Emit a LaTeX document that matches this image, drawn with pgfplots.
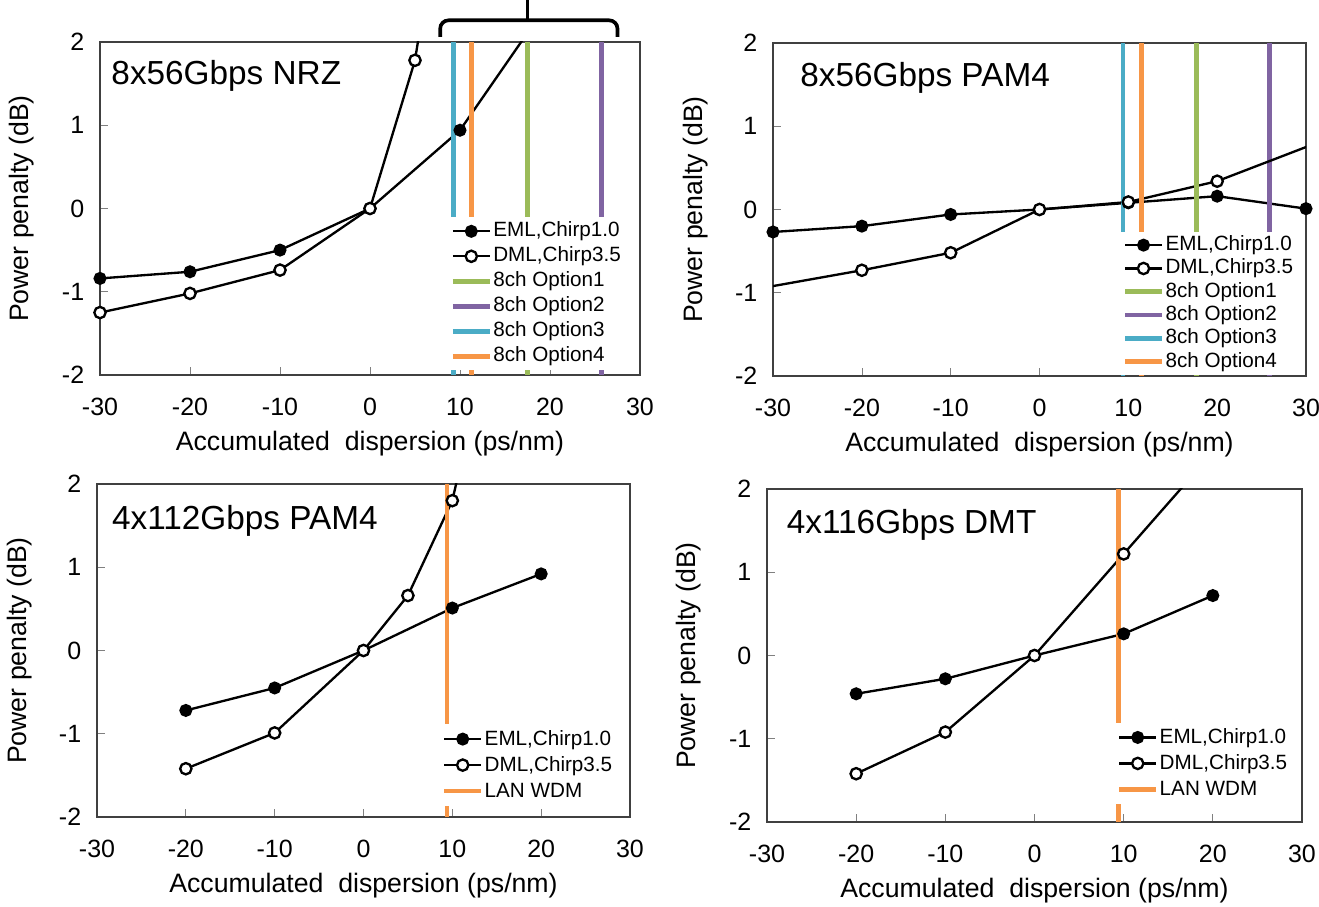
\documentclass[border=0pt]{standalone}
\usepackage{fontspec}
\setmainfont{Liberation Sans}
\usepackage{pgfplots}
\pgfplotsset{compat=1.18}

\definecolor{optgreen}{HTML}{9BBB59}
\definecolor{optpurple}{HTML}{8064A2}
\definecolor{optcyan}{HTML}{4BACC6}
\definecolor{optorange}{HTML}{F79646}

\tikzset{ttl/.style={anchor=west, inner sep=0pt, font=\fontsize{10}{12}\selectfont}}

\pgfplotsset{
  penalty/.style={
    scale only axis, width=160pt, height=99.9pt,
    xmin=-30, xmax=30, ymin=-2, ymax=2,
    xtick={-30,-20,...,30}, ytick={-2,-1,0,1,2},
    tick pos=left, tick align=inside, major tick length=2.4pt,
    tick label style={font=\fontsize{7.5}{9}\selectfont},
    xticklabel style={yshift=-3.5pt},
    yticklabel style={xshift=-1.2pt},
    /pgf/number format/assume math mode=true,
    axis line style={black!75, line width=0.5pt},
    xlabel={Accumulated\ \ dispersion (ps/nm)},
    ylabel={Power penalty (dB)},
    label style={font=\fontsize{8}{10}\selectfont},
    xlabel style={at={(axis description cs:0.5,-0.205)}, anchor=center},
    ylabel style={at={(axis description cs:-0.146,0.5)}, anchor=center},
    legend cell align=left,
    legend style={draw=none, fill=white, font=\fontsize{6.2}{7}\selectfont,
      inner xsep=0.5pt, inner ysep=0.5pt, row sep=0pt,
      nodes={inner xsep=0.4pt, inner ysep=0.5pt, text height=4.6pt, text depth=1.4pt}},
    legend image code/.code={\draw[mark repeat=2, mark phase=2]
      plot coordinates {(0pt,0pt) (5.5pt,0pt) (11pt,0pt)};},
  },
  eml/.style={black, line width=0.7pt, mark=*, mark size=1.6pt, mark options={solid, fill=black}},
  dml/.style={black, line width=0.7pt, mark=*, mark size=1.7pt, mark options={solid, fill=white}},
  vline/.style={line width=1.4pt, no marks},
}

\begin{document}
\begin{tikzpicture}
\useasboundingbox (0,0) rectangle (395.7pt,-272.1pt);

% top left: 8x56G NRZ
\begin{axis}[penalty, at={(30pt,-112.5pt)}, anchor=south west, width=162pt,
  legend style={at={(axis description cs:0.645,0.476)}, anchor=north west,
    nodes={text height=4.9pt, text depth=1.6pt}}]
\addplot[eml] coordinates {(-30,-0.84) (-20,-0.76) (-10,-0.50) (0,0) (10,0.94) (20,2.5)};
\addlegendentry{EML,Chirp1.0}
\addplot[dml] coordinates {(-30,-1.25) (-20,-1.02) (-10,-0.74) (0,0) (5,1.78) (10,5.2)};
\addlegendentry{DML,Chirp3.5}
\addplot[vline, optgreen] coordinates {(17.5,-2) (17.5,2)};
\addlegendentry{8ch Option1}
\addplot[vline, optpurple] coordinates {(25.7,-2) (25.7,2)};
\addlegendentry{8ch Option2}
\addplot[vline, optcyan] coordinates {(9.3,-2) (9.3,2)};
\addlegendentry{8ch Option3}
\addplot[vline, optorange] coordinates {(11.3,-2) (11.3,2)};
\addlegendentry{8ch Option4}
\node[ttl] at (axis description cs:0.02,0.897) {8x56Gbps NRZ};
\coordinate (bl) at (axis cs:7.8,2);
\coordinate (br) at (axis cs:27.5,2);
\coordinate (bm) at (axis cs:17.5,2);
\end{axis}
\draw[line width=1.1pt, rounded corners=2.5pt] ([yshift=1.5pt]bl) -- ([yshift=6.5pt]bl) -- ([yshift=6.5pt]br) -- ([yshift=1.5pt]br);
\draw[line width=1.1pt] ([yshift=6.5pt]bm) -- ([yshift=14pt]bm);

% top right: 8x56G PAM4
\begin{axis}[penalty, at={(231.9pt,-112.8pt)}, anchor=south west, width=159.9pt,
  legend style={at={(axis description cs:0.652,0.435)}, anchor=north west}]
\addplot[eml] coordinates {(-30,-0.27) (-20,-0.20) (-10,-0.06) (0,0) (10,0.08) (20,0.16) (30,0.01)};
\addlegendentry{EML,Chirp1.0}
\addplot[dml] coordinates {(-20,-0.73) (-10,-0.52) (0,0) (10,0.09) (20,0.34)};
\addlegendentry{DML,Chirp3.5}
\addplot[vline, optgreen] coordinates {(17.7,-2) (17.7,2)};
\addlegendentry{8ch Option1}
\addplot[vline, optpurple] coordinates {(25.9,-2) (25.9,2)};
\addlegendentry{8ch Option2}
\addplot[vline, optcyan] coordinates {(9.4,-2) (9.4,2)};
\addlegendentry{8ch Option3}
\addplot[vline, optorange] coordinates {(11.5,-2) (11.5,2)};
\addlegendentry{8ch Option4}
\addplot[black, line width=0.7pt, no marks, forget plot] coordinates {(-40,-1.11) (-20,-0.73)};
\addplot[black, line width=0.7pt, no marks, forget plot] coordinates {(20,0.34) (40,1.16)};
\node[ttl] at (axis description cs:0.05,0.895) {8x56Gbps PAM4};
\end{axis}

% bottom left: 4x112G PAM4
\begin{axis}[penalty, at={(29.1pt,-245.1pt)}, anchor=south west, width=159.9pt,
  legend style={at={(axis description cs:0.643,0.28)}, anchor=north west,
    nodes={text height=5.2pt, text depth=1.6pt}}]
\addplot[eml] coordinates {(-20,-0.72) (-10,-0.45) (0,0) (10,0.51) (20,0.92)};
\addlegendentry{EML,Chirp1.0}
\addplot[dml] coordinates {(-20,-1.42) (-10,-0.99) (0,0) (5,0.66) (10,1.80) (15,4.15)};
\addlegendentry{DML,Chirp3.5}
\addplot[vline, optorange] coordinates {(9.4,-2) (9.4,2)};
\addlegendentry{LAN WDM}
\node[ttl] at (axis description cs:0.027,0.89) {4x112Gbps PAM4};
\end{axis}

% bottom right: 4x116G DMT
\begin{axis}[penalty, at={(230.1pt,-246.6pt)}, anchor=south west, width=160.5pt,
  legend style={at={(axis description cs:0.65,0.30)}, anchor=north west,
    nodes={text height=5.2pt, text depth=1.6pt}}]
\addplot[eml] coordinates {(-20,-0.46) (-10,-0.28) (0,0) (10,0.26) (20,0.72)};
\addlegendentry{EML,Chirp1.0}
\addplot[dml] coordinates {(-20,-1.42) (-10,-0.92) (0,0) (10,1.22)};
\addlegendentry{DML,Chirp3.5}
\addplot[vline, optorange] coordinates {(9.4,-2) (9.4,2)};
\addlegendentry{LAN WDM}
\addplot[black, line width=0.7pt, no marks, forget plot] coordinates {(10,1.22) (20,2.44)};
\node[ttl] at (axis description cs:0.036,0.892) {4x116Gbps DMT};
\end{axis}
\end{tikzpicture}
\end{document}
